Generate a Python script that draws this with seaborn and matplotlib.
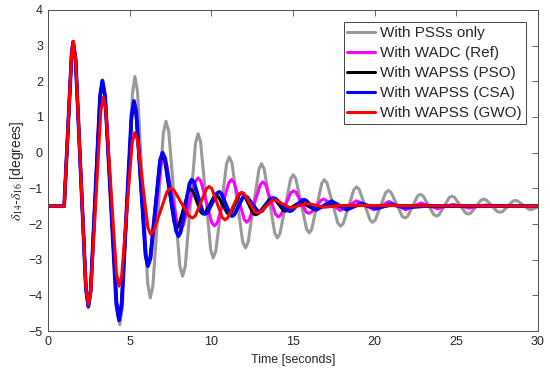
import seaborn as sns
import pandas as pd
import numpy as np
import matplotlib.pyplot as plt

# points: peaks, troughs and the shoulders next to them (time in s, degrees)
t_pss = [0, 1.0, 1.46, 1.55, 1.7, 2.33, 2.48, 2.62, 3.18, 3.32, 3.5, 4.22, 4.4, 4.56, 5.18, 5.33,
         5.49, 6.11, 6.27, 6.43, 7.07, 7.23, 7.4, 8.08, 8.25, 8.41, 9.04, 9.2, 9.35, 9.97, 10.12,
         10.28, 10.94, 11.1, 11.27, 11.93, 12.1, 12.26, 12.92, 13.08, 13.24, 13.89, 14.05, 14.21,
         14.86, 15.02, 15.18, 15.84, 16.0, 16.15, 16.77, 16.92, 17.09, 17.75, 17.92, 18.08, 18.74,
         18.9, 19.06, 19.72, 19.88, 20.04, 20.68, 20.84, 21.01, 21.69, 21.86, 22.02, 22.64, 22.8,
         22.97, 23.63, 23.8, 23.95, 24.57, 24.72, 24.89, 25.57, 25.74, 25.9, 26.52, 26.68, 26.85,
         27.51, 27.68, 27.84, 28.46, 28.62, 28.78, 29.42, 29.58, 30]
v_pss = [-1.5, -1.5, 2.8, 3.1, 2.6, -3.85, -4.35, -3.92, 1.59, 2.02, 1.56, -4.36, -4.82, -4.35, 1.66, 2.13,
         1.71, -3.65, -4.07, -3.74, 0.55, 0.88, 0.59, -3.17, -3.46, -3.19, 0.26, 0.53, 0.3, -2.72, -2.95,
         -2.76, -0.31, -0.12, -0.29, -2.5, -2.67, -2.51, -0.47, -0.31, -0.45, -2.25, -2.39, -2.27,
         -0.74, -0.62, -0.73, -2.14, -2.25, -2.15, -0.86, -0.76, -0.85, -1.97, -2.06, -1.99, -1.03,
         -0.96, -1.03, -1.88, -1.95, -1.89, -1.12, -1.06, -1.11, -1.78, -1.83, -1.79, -1.21, -1.17,
         -1.21, -1.74, -1.78, -1.74, -1.26, -1.22, -1.25, -1.69, -1.72, -1.69, -1.33, -1.30, -1.33,
         -1.65, -1.67, -1.65, -1.36, -1.34, -1.36, -1.58, -1.6, -1.52]

t_wadc = [0, 1.0, 1.46, 1.55, 1.7, 2.33, 2.48, 2.62, 3.2, 3.34, 3.51, 4.21, 4.38, 4.53, 5.13, 5.28,
          5.42, 6.0, 6.15, 6.31, 6.92, 7.08, 7.25, 7.93, 8.1, 8.28, 9.02, 9.2, 9.37, 10.03, 10.2,
          10.38, 11.08, 11.25, 11.4, 12.02, 12.17, 12.34, 13.0, 13.16, 13.32, 13.94, 14.1, 14.26,
          14.88, 15.04, 15.19, 15.81, 15.96, 16.12, 16.74, 16.9, 17.9, 18.9, 19.95, 20.88, 21.9,
          22.85, 23.85, 24.8, 25.8, 26.8, 28, 30]
v_wadc = [-1.5, -1.5, 2.8, 3.1, 2.6, -3.8, -4.3, -3.88, 1.58, 2.0, 1.56, -4.16, -4.6, -4.2, 1.02, 1.42,
          1.11, -2.84, -3.15, -2.95, -0.35, -0.15, -0.28, -2.02, -2.15, -2.05, -0.81, -0.71, -0.8, -1.96, -2.05,
          -1.96, -0.84, -0.75, -0.83, -1.87, -1.95, -1.87, -0.9, -0.82, -0.89, -1.73, -1.8, -1.75,
          -1.12, -1.07, -1.11, -1.66, -1.7, -1.67, -1.33, -1.3, -1.62, -1.35, -1.6, -1.37, -1.6,
          -1.41, -1.57, -1.45, -1.55, -1.47, -1.5, -1.5]

t_pso = [0, 1.0, 1.46, 1.55, 1.7, 2.33, 2.48, 2.62, 3.2, 3.34, 3.51, 4.2, 4.37, 4.52, 5.12, 5.27,
         5.41, 5.98, 6.12, 6.27, 6.85, 7.0, 7.15, 7.73, 7.88, 8.02, 8.6, 8.74, 8.87, 9.37, 9.5,
         9.63, 10.17, 10.3, 10.43, 10.97, 11.1, 11.23, 11.73, 11.86, 12.0, 12.56, 12.7, 12.88,
         13.58, 13.75, 13.88, 14.42, 14.55, 15.45, 16.35, 17.3, 18.2, 19.1, 20.0, 21.0, 30]
v_pso = [-1.5, -1.5, 2.8, 3.1, 2.6, -3.8, -4.3, -3.88, 1.56, 1.98, 1.54, -4.18, -4.62, -4.22, 0.95, 1.35,
         1.05, -2.85, -3.15, -2.94, -0.29, -0.08, -0.22, -1.96, -2.1, -2.03, -1.09, -1.02, -1.07, -1.67, -1.72,
         -1.69, -1.23, -1.2, -1.23, -1.69, -1.72, -1.68, -1.17, -1.13, -1.17, -1.7, -1.74, -1.71,
         -1.3, -1.27, -1.3, -1.62, -1.64, -1.38, -1.6, -1.42, -1.56, -1.46, -1.53, -1.48, -1.5]

t_csa = [0, 1.0, 1.46, 1.55, 1.7, 2.33, 2.48, 2.62, 3.2, 3.34, 3.51, 4.19, 4.36, 4.51, 5.12, 5.27,
         5.41, 5.98, 6.12, 6.27, 6.87, 7.02, 7.18, 7.84, 8.0, 8.13, 8.67, 8.8, 8.94, 9.48, 9.62,
         9.77, 10.35, 10.5, 10.63, 11.15, 11.28, 11.41, 11.93, 12.06, 12.21, 12.83, 12.98, 13.12,
         13.66, 13.8, 13.97, 14.63, 14.8, 14.95, 15.53, 15.68, 15.81, 16.32, 16.45, 17.37, 18.3,
         19.2, 20.1, 21.0, 21.9, 23.0, 30]
v_csa = [-1.5, -1.5, 2.8, 3.1, 2.6, -3.8, -4.3, -3.88, 1.6, 2.02, 1.57, -4.25, -4.7, -4.29, 1.04, 1.45,
         1.14, -2.87, -3.18, -2.97, -0.21, 0.0, -0.16, -2.18, -2.34, -2.23, -0.87, -0.76, -0.82, -1.66, -1.72,
         -1.68, -1.14, -1.1, -1.15, -1.73, -1.78, -1.74, -1.26, -1.22, -1.25, -1.63, -1.66, -1.63,
         -1.3, -1.27, -1.3, -1.61, -1.64, -1.62, -1.34, -1.32, -1.34, -1.58, -1.6, -1.36, -1.6,
         -1.42, -1.57, -1.45, -1.54, -1.5, -1.5]

t_gwo = [0, 1.0, 1.46, 1.55, 1.7, 2.33, 2.48, 2.63, 3.24, 3.39, 3.55, 4.2, 4.36, 4.52, 5.16, 5.32,
         5.48, 6.12, 6.28, 6.48, 7.3, 7.5, 7.73, 8.63, 8.86, 9.03, 9.71, 9.88, 10.04, 10.68, 10.84,
         11.01, 11.69, 11.86, 12.02, 12.66, 12.82, 13.0, 13.72, 13.9, 14.85, 15.9, 16.9, 18.0, 30]
v_gwo = [-1.5, -1.5, 2.82, 3.12, 2.63, -3.77, -4.26, -3.87, 1.16, 1.55, 1.2, -3.39, -3.74, -3.45, 0.27, 0.56,
         0.37, -2.09, -2.28, -2.19, -1.09, -1.0, -1.06, -1.77, -1.83, -1.77, -1.01, -0.95, -1.01, -1.82, -1.88,
         -1.83, -1.16, -1.11, -1.15, -1.65, -1.69, -1.665, -1.345, -1.32, -1.55, -1.42, -1.53, -1.48, -1.5]

labels = ['With PSSs only', 'With WADC (Ref)', 'With WAPSS (PSO)', 'With WAPSS (CSA)', 'With WAPSS (GWO)']
colors = ['#999999', '#ff00ff', '#000000', '#0000ff', '#ff0000']
widths = [2.2, 2.2, 2.2, 2.7, 2.2]

sns.set_style('white')
plt.rcParams['font.family'] = ['Liberation Sans', 'DejaVu Sans']
plt.rcParams['mathtext.fontset'] = 'stix'

frames = []
for name, t, v in zip(labels, [t_pss, t_wadc, t_pso, t_csa, t_gwo], [v_pss, v_wadc, v_pso, v_csa, v_gwo]):
    frames.append(pd.DataFrame({'t': t, 'v': v, 'series': name}))
df = pd.concat(frames, ignore_index=True)

fig = plt.figure(figsize=(5.5, 3.78), dpi=100)
ax = fig.add_axes([0.087, 0.124, 0.891, 0.85])
sns.lineplot(data=df, x='t', y='v', hue='series', palette=dict(zip(labels, colors)),
             estimator=None, sort=False, linewidth=2.2, ax=ax, legend=False)
for line, w in zip(ax.get_lines(), widths):
    line.set_linewidth(w)
    line.set_solid_joinstyle('round')

ax.set_xlim(0, 30)
ax.set_ylim(-5, 4)
ax.set_xticks(range(0, 31, 5))
ax.set_yticks(range(-5, 5))
ax.tick_params(direction='in', top=True, right=True, length=4, width=0.6, colors='#4d4d4d',
               labelcolor='#262626', labelsize=9)
for s in ax.spines.values():
    s.set_color('#4d4d4d')
    s.set_linewidth(0.7)
ax.set_xlabel('Time [seconds]', fontsize=9, color='#262626', labelpad=4)
ax.set_ylabel(r'$\delta_{14}$-$\delta_{16}$ [degrees]', fontsize=10, color='#262626', labelpad=2)

handles = [plt.Line2D([], [], color=c, lw=2.2) for c in colors]
leg = ax.legend(handles, labels, loc='upper right', fontsize=11, frameon=True, fancybox=False,
                handlelength=1.8, handletextpad=0.35, borderaxespad=0.8, labelspacing=0.4,
                borderpad=0.25, edgecolor='#262626', framealpha=1)
leg.get_frame().set_linewidth(0.6)

fig.savefig('out.png', dpi=100)
